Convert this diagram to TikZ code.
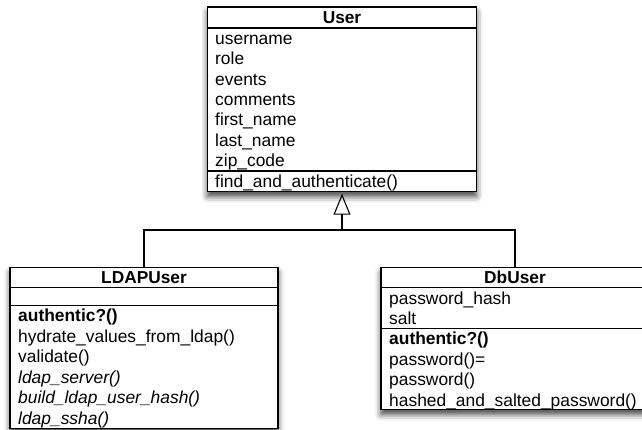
\documentclass[tikz,border=0pt]{standalone}
\usepackage{fontspec}
\setmainfont{Liberation Sans}
\usetikzlibrary{arrows.meta,shadows.blur}

\tikzset{
  classbox/.style={draw=black, line width=1.5pt, fill=white, inner sep=0pt,
    blur shadow={shadow xshift=0pt, shadow yshift=-5pt,
                 shadow blur radius=6pt, shadow opacity=75}},
  member/.style={anchor=base west, inner sep=0pt, font=\fontsize{17.4}{20}\selectfont},
  classname/.style={anchor=base, inner sep=0pt, font=\fontsize{17.3}{20}\selectfont\bfseries},
  divider/.style={line width=1.5pt},
  link/.style={line width=1.1pt},
}

\begin{document}
\begin{tikzpicture}[x=1pt, y=-1pt]
\useasboundingbox (0,0) rectangle (642,430);

% ---- class boxes ----
\node[classbox, minimum width=269pt, minimum height=184.5pt] (user) at (342,99.25) {};
\node[classbox, minimum width=268pt, minimum height=161pt] (ldap) at (144,348) {};
\node[classbox, minimum width=268pt, minimum height=142pt] (db) at (515,338.5) {};

% ---- User ----
\node[classname] (userName) at (342,23.3) {User};
\draw[divider] (user.west |- 0,28) -- (user.east |- 0,28);
\foreach \t [count=\i] in {username,role,events,comments,first\_name,last\_name,zip\_code}
  \node[member] (userAttr\i) at (215,{44.3+(\i-1)*20.4}) {\t};
\draw[divider] (user.west |- 0,170.8) -- (user.east |- 0,170.8);
\node[member] (userOp1) at (215,187.1) {find\_and\_authenticate()};

% ---- LDAPUser ----
\node[classname] (ldapName) at (144,283.8) {LDAPUser};
\draw[divider] (ldap.west |- 0,287.7) -- (ldap.east |- 0,287.7);
\draw[divider] (ldap.west |- 0,305.3) -- (ldap.east |- 0,305.3);
\node[member] (ldapOp1) at (18,321.6) {\bfseries authentic?()};
\node[member] (ldapOp2) at (18,342.1) {hydrate\_values\_from\_ldap()};
\node[member] (ldapOp3) at (18,362.6) {validate()};
\node[member] (ldapOp4) at (18,383.1) {\itshape ldap\_server()};
\node[member] (ldapOp5) at (18,403.6) {\itshape build\_ldap\_user\_hash()};
\node[member] (ldapOp6) at (18,424.1) {\itshape ldap\_ssha()};

% ---- DbUser ----
\node[classname] (dbName) at (515,283.8) {DbUser};
\draw[divider] (db.west |- 0,287.7) -- (db.east |- 0,287.7);
\node[member] (dbAttr1) at (389,304) {password\_hash};
\node[member] (dbAttr2) at (389,324.4) {salt};
\draw[divider] (db.west |- 0,328.5) -- (db.east |- 0,328.5);
\node[member] (dbOp1) at (389,344.8) {\bfseries authentic?()};
\node[member] (dbOp2) at (389,365.2) {password()=};
\node[member] (dbOp3) at (389,385.6) {password()};
\node[member] (dbOp4) at (389,406) {hashed\_and\_salted\_password()};

% ---- generalization ----
\coordinate (hub) at (342,230);
\draw[link, shorten >=1.5pt,
      -{Triangle[open, width=17pt, length=21pt, line width=1.1pt]}] (hub) -- (user.south);
\draw[link] (ldap.north) |- (hub) -| (db.north);
\end{tikzpicture}
\end{document}
